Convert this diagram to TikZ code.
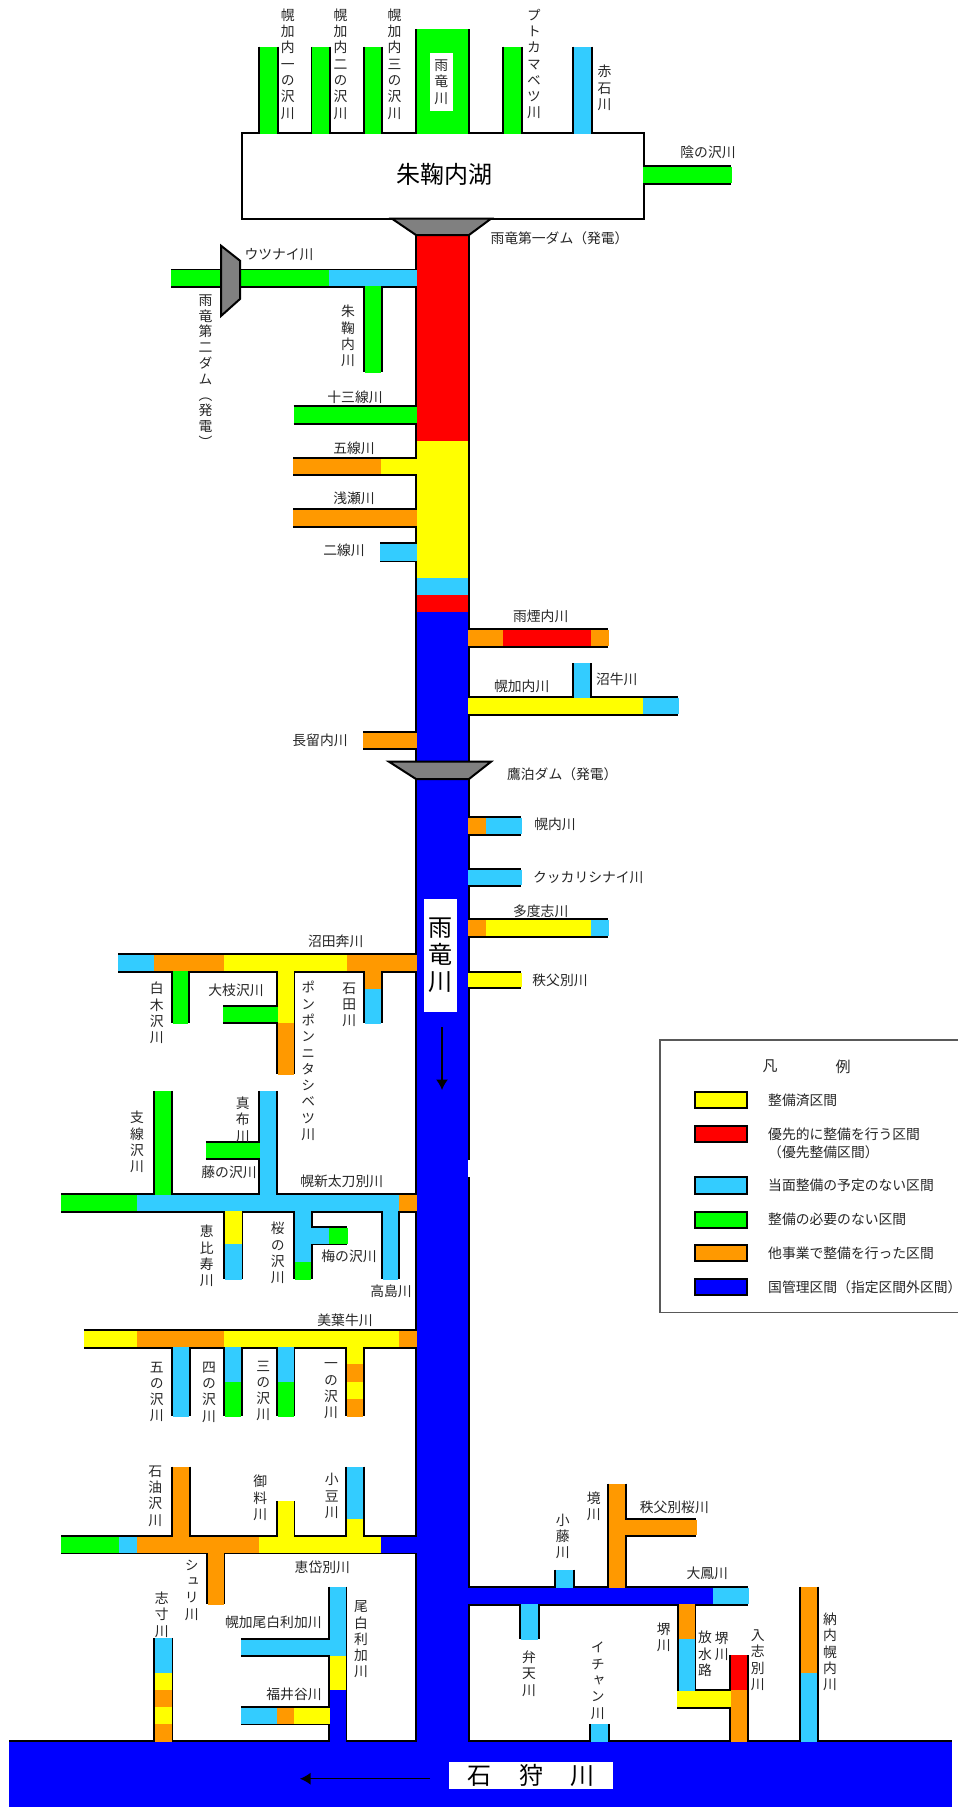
\documentclass[tikz,border=0pt]{standalone}
\usepackage{fontspec}
\usetikzlibrary{arrows.meta}
\setmainfont{Noto Sans CJK JP}
\newfontfamily\vjp[RawFeature=+vert]{Noto Sans CJK JP}
\definecolor{ry}{HTML}{FFFF00}
\definecolor{rr}{HTML}{FF0000}
\definecolor{rc}{HTML}{33CCFF}
\definecolor{rg}{HTML}{00FF00}
\definecolor{ro}{HTML}{FF9900}
\definecolor{rb}{HTML}{0000FF}
\definecolor{damgray}{HTML}{808080}
\pgfdeclarelayer{edge}
\pgfsetlayers{edge,main}
\tikzset{
  edgeline/.style={draw=black,line width=2pt},
  lbl/.style={font=\fontsize{13.8}{16}\selectfont,inner sep=0pt,text=black!85},
  biglbl/.style={font=\fontsize{24}{28}\selectfont,inner sep=0pt},
  damshape/.style={draw=black,line width=2pt,fill=damgray,line join=miter},
  swatch/.style={draw=black,line width=2pt},
  flowarrow/.style={draw=black,line width=1.3pt,-{Latex[length=10.5pt,width=12pt]}}
}
% vertical stack of characters
\def\vtl#1{\ifx#1\relax\else\hbox to 14pt{\hss#1\hss}\expandafter\vtl\fi}
\newcommand\vt[2][16.3pt]{\vbox{\vjp\baselineskip=#1\lineskiplimit=-100pt\vtl#2\relax}}
% horizontal river: y1 y2 x0 {colour/x,...}
\newcommand\hr[4]{\foreach \c/\x [remember=\x as \px (initially {#3-0.8})] in {#4}{%
  \fill[fill=\c] ({\px},{#1+0.8}) rectangle ({\x+0.8},{#2-0.8});
  \begin{pgfonlayer}{edge}
  \draw[edgeline] ({\px},#1) -- (\x,#1) ({\px},#2) -- (\x,#2);
  \end{pgfonlayer}}}
% vertical river: x1 x2 y0 {colour/y,...}
\newcommand\vr[4]{\foreach \c/\y [remember=\y as \py (initially {#3-0.8})] in {#4}{%
  \fill[fill=\c] ({#1+0.8},{\py}) rectangle ({#2-0.8},{\y+0.8});
  \begin{pgfonlayer}{edge}
  \draw[edgeline] (#1,{\py}) -- (#1,\y) (#2,{\py}) -- (#2,\y);
  \end{pgfonlayer}}}
\begin{document}
\begin{tikzpicture}[x=1pt,y=-1pt]
\useasboundingbox (0,0) rectangle (958,1807);
% background and lake outline
\begin{pgfonlayer}{edge}
\fill[white] (0,0) rectangle (958,1807);
\draw[edgeline] (242,132.7) rectangle (644,218.7);
\draw[edgeline] (9,1741) -- (952,1741);
\end{pgfonlayer}
% streams into the lake
\vr{259}{277.5}{47.3}{rg/132.7}
\vr{311.5}{329.7}{47.3}{rg/132.7}
\vr{363.8}{382}{47.3}{rg/132.7}
\vr{416}{469}{30}{rg/132.7}
\vr{503}{522}{47.3}{rg/132.7}
\vr{573}{592}{47.3}{rc/132.7}
\hr{166}{184}{644}{rg/731}
% upper left
\vr{364}{382}{286.7}{rg/372}
\hr{269.5}{286.7}{171.8}{rg/329,rc/416}
\hr{406}{424}{294.5}{rg/416}
\hr{457.7}{475}{294}{ro/381,ry/416}
\hr{509}{526.7}{294}{ro/416}
\hr{543.3}{561.3}{381}{rc/416}
% upper right
\hr{629}{646.7}{469}{ro/503,rr/590.7,ro/608}
\vr{573}{591}{664}{rc/697}
\hr{697}{715}{469}{ry/643,rc/678}
\hr{731.7}{749}{364}{ro/416}
\hr{817}{835}{469}{ro/486,rc/520.7}
\hr{869}{886}{469}{rc/520.7}
\hr{919.3}{937}{469}{ro/486,ry/590.7,rc/608}
\hr{971.7}{988}{469}{ry/521}
% numata
\vr{172}{189}{971.7}{rg/1022.7}
\hr{1005.7}{1022.7}{224}{rg/276.7}
\vr{276.7}{294.3}{971.7}{ry/1022.7,ro/1074}
\vr{364}{381.7}{971.7}{ro/988.7,rc/1022.7}
\hr{954}{971.7}{119}{rc/154,ro/224,ry/346.7,ro/416}
% horoshin
\vr{154.3}{172}{1091.7}{rg/1194.3}
\hr{1142.3}{1159}{206.7}{rg/259}
\vr{259}{276.7}{1091.7}{rc/1194.3}
\vr{224}{242.3}{1211.7}{ry/1244.3,rc/1279}
\hr{1226.7}{1244.3}{311.7}{rc/329,rg/346.7}
\vr{294.3}{311.7}{1211.7}{rc/1261.7,rg/1279}
\vr{381.7}{399}{1211.7}{rc/1279}
\hr{1194.3}{1211.7}{62}{rg/137.3,rc/399,ro/416}
% biei
\vr{172}{189.7}{1347.7}{rc/1415.7}
\vr{224}{242}{1347.7}{rc/1381.7,rg/1415.7}
\vr{276.7}{294.3}{1347.7}{rc/1381.7,rg/1415.7}
\vr{346.3}{364}{1347.7}{ry/1364.3,ro/1381.7,ry/1398.7,ro/1415.7}
\hr{1329.7}{1347.7}{84.7}{ry/136.7,ro/224,ry/399,ro/416}
% etaibetsu
\vr{172}{189.7}{1467.3}{ro/1535.7}
\vr{276.7}{294.3}{1501.7}{ry/1535.7}
\vr{346.3}{364}{1467.3}{rc/1519,ry/1535.7}
\vr{206.7}{224.3}{1553.3}{ro/1604}
\hr{1535.7}{1553.3}{62}{rg/119,rc/137,ro/259,ry/381.3,rb/416}
% obirika
\hr{1638.7}{1655.7}{241.7}{rc/328.7}
\hr{1707}{1724.3}{241.7}{rc/276.7,ro/294,ry/328.7}
\vr{328.7}{346.3}{1587.3}{rc/1655.7,ry/1690,rb/1741}
\vr{154.3}{172.3}{1638.7}{rc/1672.7,ry/1690,ro/1707,ry/1724.3,ro/1741}
% lower right
\vr{555.3}{573.7}{1570.3}{rc/1586.7}
\hr{1518.7}{1536}{625.7}{ro/695.7}
\vr{607.7}{625.7}{1484.3}{ro/1586.7}
\vr{520.3}{538.7}{1604.7}{rc/1638.7}
\vr{590.3}{608.7}{1724.7}{rc/1741}
\vr{678}{695.3}{1604.7}{ro/1638.7,rc/1690}
\hr{1690}{1707.7}{678}{ry/730.3}
\begin{pgfonlayer}{edge}
\draw[edgeline] (678,1689) -- (678,1708.7);
\end{pgfonlayer}
\vr{730.3}{748}{1656}{rr/1690,ro/1741}
\vr{799.7}{818}{1587.3}{ro/1672.7,rc/1741}
\hr{1586.7}{1604.7}{469}{rb/712.7,rc/747.7}
% main river
\vr{416}{469}{235}{rr/440.7,ry/577.7,rc/594.7,rr/612,rb/1741}
\fill[white] (468.3,1160) rectangle (471,1177);
% Ishikari river
\fill[rb] (9,1741.8) rectangle (952,1807);
% dams
\draw[damshape] (392,218.7) -- (491,218.7) -- (469,235) -- (416,235) -- cycle;
\draw[damshape] (221,245.7) -- (240,260.7) -- (240,299) -- (221,316) -- cycle;
\draw[damshape] (389,761.7) -- (491,761.7) -- (469,779) -- (416,779) -- cycle;
% flow arrows
\coordinate (fa1) at (442,1027);
\coordinate (fa2) at (442,1090);
\coordinate (fb1) at (430,1778.7);
\coordinate (fb2) at (300,1778.7);
\draw[flowarrow] (fa1) -- (fa2);
\draw[flowarrow] (fb1) -- (fb2);
% big labels
\node[font=\fontsize{24}{28}\selectfont,inner sep=0pt] (lake) at (444,174.3) {朱鞠内湖};
\node[fill=white,minimum width=23.5pt,minimum height=58pt,inner sep=0pt,lbl] (uryuU) at (441.3,82) {\vt{雨竜川}};
\node[fill=white,minimum width=33pt,minimum height=112.7pt,inner sep=0pt,biglbl] (uryuM) at (440.5,955.3) {\vbox{\baselineskip=27pt\lineskiplimit=-100pt\hbox{雨}\hbox{竜}\hbox{川}}};
\node[fill=white,minimum width=164pt,minimum height=26.7pt,inner sep=0pt,biglbl] (ishi) at (531.3,1775.3) {石\hspace{27.5pt}狩\hspace{27.5pt}川};
% vertical labels
\node[lbl] (t01) at (287.8,64) {\vt{幌加内一の沢川}};
\node[lbl] (t02) at (340.4,64) {\vt{幌加内二の沢川}};
\node[lbl] (t03) at (394.6,64) {\vt{幌加内三の沢川}};
\node[lbl] (t04) at (534,64) {\vt{プトカマベツ川}};
\node[lbl] (t05) at (604.5,88) {\vt{赤石川}};
\node[lbl] (t06) at (205.4,371) {\vt[15.8pt]{雨竜第二ダム（発電）}};
\node[lbl] (t07) at (348,336) {\vt{朱鞠内川}};
\node[lbl] (t08) at (156.7,1013) {\vt{白木沢川}};
\node[lbl] (t09) at (308.3,1061) {\vt{ポンポンニタシベツ川}};
\node[lbl] (t10) at (349.3,1005) {\vt{石田川}};
\node[lbl] (t11) at (137,1142) {\vt{支線沢川}};
\node[lbl] (t12) at (242.7,1119.7) {\vt{真布川}};
\node[lbl] (t13) at (206.7,1256) {\vt{恵比寿川}};
\node[lbl] (t14) at (277.7,1253) {\vt{桜の沢川}};
\node[lbl] (t15) at (156.7,1392) {\vt{五の沢川}};
\node[lbl] (t16) at (209,1392) {\vt{四の沢川}};
\node[lbl] (t17) at (263.3,1391) {\vt{三の沢川}};
\node[lbl] (t18) at (331,1391) {\vt{一の沢川}};
\node[lbl] (t19) at (155.3,1496) {\vt{石油沢川}};
\node[lbl] (t20) at (260.3,1498) {\vt{御料川}};
\node[lbl] (t21) at (331.7,1496) {\vt{小豆川}};
\node[lbl] (t22) at (191.7,1590) {\vt{シュリ川}};
\node[lbl] (t23) at (161.7,1614.5) {\vt{志寸川}};
\node[lbl] (t24) at (361,1639.5) {\vt{尾白利加川}};
\node[lbl] (t25) at (593.7,1506) {\vt{境川}};
\node[lbl] (t26) at (562.7,1536.3) {\vt{小藤川}};
\node[lbl] (t27) at (529,1673.7) {\vt{弁天川}};
\node[lbl] (t28) at (597.7,1680.7) {\vt{イチャン川}};
\node[lbl] (t29) at (663.7,1637) {\vt{堺川}};
\node[lbl] (t30) at (721.7,1646) {\vt{堺川}};
\node[lbl] (t31) at (705,1654) {\vt{放水路}};
\node[lbl] (t32) at (757.7,1660.3) {\vt{入志別川}};
\node[lbl] (t33) at (830,1652) {\vt{納内幌内川}};
% horizontal labels
\node[lbl] (h01) at (708,152.5) {陰の沢川};
\node[lbl] (h02) at (559.5,238.3) {雨竜第一ダム（発電）};
\node[lbl] (h03) at (279,254.3) {ウツナイ川};
\node[lbl] (h04) at (355,397) {十三線川};
\node[lbl] (h05) at (354,448.5) {五線川};
\node[lbl] (h06) at (354,498.3) {浅瀬川};
\node[lbl] (h07) at (344,550) {二線川};
\node[lbl] (h08) at (540.7,616) {雨煙内川};
\node[lbl] (h09) at (521.7,686) {幌加内川};
\node[lbl] (h10) at (616.7,679.3) {沼牛川};
\node[lbl] (h11) at (320,740.7) {長留内川};
\node[lbl] (h12) at (562.3,774) {鷹泊ダム（発電）};
\node[lbl] (h13) at (555,824.7) {幌内川};
\node[lbl] (h14) at (588.3,877.7) {クッカリシナイ川};
\node[lbl] (h15) at (540.7,911.7) {多度志川};
\node[lbl] (h16) at (560,980) {秩父別川};
\node[lbl] (h17) at (335.7,941) {沼田奔川};
\node[lbl] (h18) at (236,990.7) {大枝沢川};
\node[lbl] (h19) at (229,1172.3) {藤の沢川};
\node[lbl] (h20) at (341.7,1181) {幌新太刀別川};
\node[lbl] (h21) at (349,1256) {梅の沢川};
\node[lbl] (h22) at (391,1291) {高島川};
\node[lbl] (h23) at (345,1320) {美葉牛川};
\node[lbl] (h24) at (322.3,1567) {恵岱別川};
\node[lbl] (h25) at (273.3,1622.7) {幌加尾白利加川};
\node[lbl] (h26) at (294,1694) {福井谷川};
\node[lbl] (h27) at (674.3,1507.7) {秩父別桜川};
\node[lbl] (h28) at (707.3,1573.3) {大鳳川};
% legend
\draw[draw=black!65,line width=1.4pt] (958,1040) -- (660,1040) -- (660,1312.7) -- (958,1312.7);
\node[lbl,font=\fontsize{15}{18}\selectfont] (lg1) at (770,1066.7) {凡};
\node[lbl,font=\fontsize{15}{18}\selectfont] (lg2) at (843,1066.7) {例};
\draw[swatch,fill=ry] (695.3,1091.7) rectangle (747.3,1108);
\draw[swatch,fill=rr] (695.3,1126) rectangle (747.3,1142.3);
\draw[swatch,fill=rc] (695.3,1177.3) rectangle (747.3,1193.7);
\draw[swatch,fill=rg] (695.3,1211.7) rectangle (747.3,1227.7);
\draw[swatch,fill=ro] (695.3,1245) rectangle (747.3,1261.3);
\draw[swatch,fill=rb] (695.3,1279.3) rectangle (747.3,1295.3);
\node[lbl,anchor=west] (l1) at (768,1100) {整備済区間};
\node[lbl,anchor=west] (l2) at (768,1134.3) {優先的に整備を行う区間};
\node[lbl,anchor=west] (l2b) at (768,1152.3) {（優先整備区間）};
\node[lbl,anchor=west] (l3) at (768,1185.7) {当面整備の予定のない区間};
\node[lbl,anchor=west] (l4) at (768,1219.3) {整備の必要のない区間};
\node[lbl,anchor=west] (l5) at (768,1253.3) {他事業で整備を行った区間};
\node[lbl,anchor=west] (l6) at (768,1287.7) {国管理区間（指定区間外区間）};
\end{tikzpicture}
\end{document}
